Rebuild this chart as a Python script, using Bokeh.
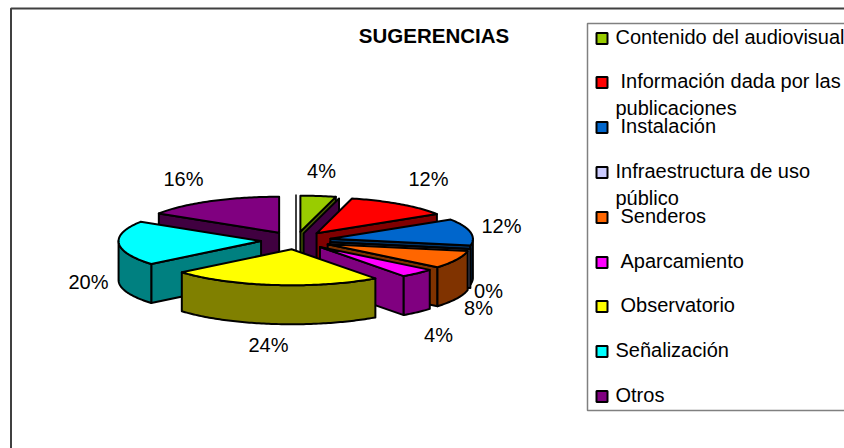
import math
from bokeh.plotting import figure
from bokeh.models import Range1d
from bokeh.core.properties import value
from bokeh.embed import file_html
from bokeh.resources import INLINE

# ---- data ----
categories = ["Contenido del audiovisual", "Información dada por las publicaciones", "Instalación",
              "Infraestructura de uso público", "Senderos", "Aparcamiento", "Observatorio",
              "Señalización", "Otros"]
percentages = [4, 12, 12, 0, 8, 4, 24, 20, 16]
title_text = "SUGERENCIAS"

# ---- styles ----
top_colors = ["#99CC00", "#FF0000", "#0066CC", "#CCCCFF", "#FF6600", "#FF00FF", "#FFFF00", "#00FFFF", "#800080"]
wall_colors = ["#4D6600", "#800000", "#003366", "#666680", "#803300", "#800080", "#808000", "#008080", "#400040"]
FONT = value("Liberation Sans")

# ---- layout (page pixels) ----
W, H = 844, 448
CX, CY = 295.5, 240.0      # pie centre
RX, RY = 142.5, 36.0       # ellipse radii
EXPLODE = 35.0             # explosion distance in x-units
DEPTH = 39.0               # extrusion
# label anchors (centre of text)
label_pos = [(321, 170), (428, 178), (501, 225), (488, 290), (478, 307), (438, 334), (268, 344), (88, 281), (183, 178)]
legend_x_text = [615, 620, 620, 615, 620, 620, 620, 615, 615]
legend_y_swatch = [38, 82, 127, 172, 217, 262, 306, 351, 396]

p = figure(width=W, height=H, output_backend="svg", toolbar_location=None,
           x_range=Range1d(0, W), y_range=Range1d(H, 0),
           min_border=0, outline_line_color=None)
p.axis.visible = False
p.grid.visible = False
p.background_fill_color = "white"
p.border_fill_color = "white"

# chart frame
p.line([10.5, 10.5, 844], [448, 8, 8], line_color="#404040", line_width=2)
# legend frame
p.line([844, 587, 587, 844], [23, 23, 410, 410], line_color="#808080", line_width=1.5)

def px(a_deg, ox, oy):
    t = math.radians(a_deg)
    return ox + RX * math.sin(t), oy - RY * math.cos(t)

# build slices
total = sum(percentages)
slices = []
cum = 0.0
for i, v in enumerate(percentages):
    a0 = cum / total * 360
    cum += v
    a1 = cum / total * 360
    mid = (a0 + a1) / 2
    t = math.radians(mid)
    ox = CX + EXPLODE * math.sin(t)
    oy = CY - EXPLODE * RY / RX * math.cos(t)
    slices.append((oy, i, a0, a1, ox))

def quad(p1, p2):
    return ([p1[0], p2[0], p2[0], p1[0]], [p1[1], p2[1], p2[1] + DEPTH, p1[1] + DEPTH])

def draw(xs, ys, color):
    p.patch(xs, ys, fill_color=color, line_color="black", line_width=2, line_join="round")

# zero-thickness seam at twelve o'clock
p.line([CX, CX], [CY - 46, CY + 10], line_color="black", line_width=1.5)

for oy, i, a0, a1, ox in sorted(slices):
    wall = wall_colors[i]
    top = top_colors[i]
    # back stub visible between the first two slices
    if i == 1:
        r = px(a0, ox, oy)
        q = quad((ox - 13, oy), (r[0] - 13, r[1]))
        draw(q[0], q[1], wall_colors[-1])
    # start radial wall, if facing the viewer
    if math.cos(math.radians(a0 - 90)) < 0:
        q = quad((ox, oy), px(a0, ox, oy))
        draw(q[0], q[1], wall)
    # end radial wall, if facing the viewer
    if math.cos(math.radians(a1 + 90)) < 0:
        q = quad((ox, oy), px(a1, ox, oy))
        draw(q[0], q[1], wall)
    # outer wall for the front half of the rim
    lo, hi = max(a0, 90), min(a1, 270)
    if hi > lo:
        n = max(2, int(hi - lo) + 1)
        rim = [px(lo + (hi - lo) * k / (n - 1), ox, oy) for k in range(n)]
        xs = [r[0] for r in rim] + [r[0] for r in reversed(rim)]
        ys = [r[1] for r in rim] + [r[1] + DEPTH for r in reversed(rim)]
        draw(xs, ys, wall)
    # top face
    n = max(2, int(a1 - a0) + 1)
    rim = [px(a0 + (a1 - a0) * k / (n - 1), ox, oy) for k in range(n)]
    draw([ox] + [r[0] for r in rim], [oy] + [r[1] for r in rim], top)

# percentage labels
p.text([q[0] for q in label_pos], [q[1] for q in label_pos], text=[f"{v}%" for v in percentages],
       text_font=FONT, text_font_size="20px", text_color="black",
       text_align="center", text_baseline="middle")

# title
p.text([433.5], [35], text=[title_text], text_font=FONT, text_font_size="20.5px", text_font_style="bold",
       text_color="black", text_align="center", text_baseline="middle")

# legend
p.scatter([601.5] * len(categories), legend_y_swatch, marker="square", size=11,
          fill_color=top_colors, line_color="black", line_width=2)
legend_lines = [
    [categories[0]],
    ["Información dada por las", "publicaciones"],
    [categories[2]],
    ["Infraestructura de uso", "público"],
    [categories[4]], [categories[5]], [categories[6]], [categories[7]], [categories[8]],
]
tx, ty, tt = [], [], []
for lines, x, y in zip(legend_lines, legend_x_text, legend_y_swatch):
    tx.append(x); ty.append(y - 2); tt.append(lines[0])
    if len(lines) > 1:
        tx.append(615); ty.append(y + 25); tt.append(lines[1])
p.text(tx, ty, text=tt, text_font=FONT, text_font_size="20px", text_color="black",
       text_align="left", text_baseline="middle")

open("out.html", "w").write(file_html(p, INLINE))
